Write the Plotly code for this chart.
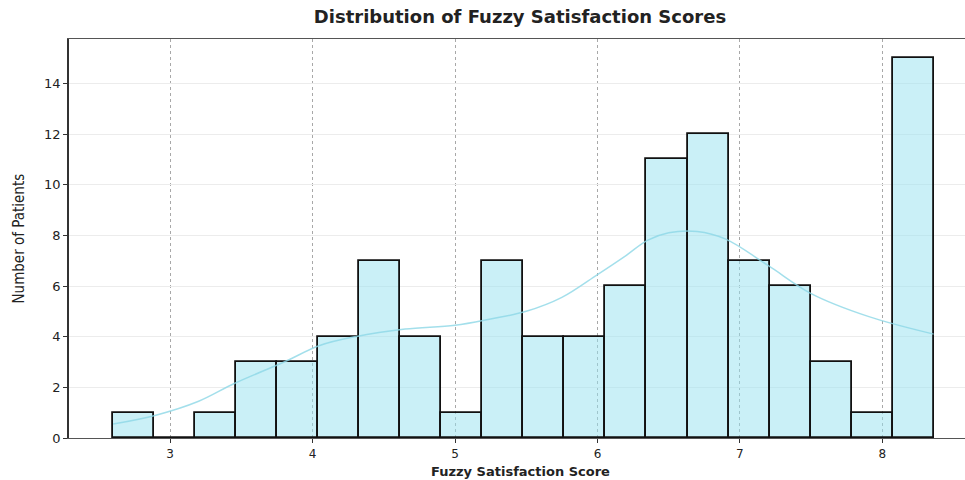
import plotly.graph_objects as go

# ---- data ----
bin_start = 2.60
bin_width = 0.288
counts = [1, 0, 1, 3, 3, 4, 7, 4, 1, 7, 4, 4, 6, 11, 12, 7, 6, 3, 1, 15]

kde_x = [2.60, 2.90, 3.20, 3.45, 3.80, 4.05, 4.30, 4.65, 5.00, 5.25, 5.50,
         5.75, 6.00, 6.20, 6.35, 6.50, 6.70, 6.90, 7.20, 7.50, 7.90, 8.36]
kde_y = [0.55, 0.90, 1.45, 2.15, 3.00, 3.65, 4.00, 4.30, 4.45, 4.70, 5.00,
         5.55, 6.45, 7.20, 7.80, 8.10, 8.15, 7.85, 6.80, 5.70, 4.80, 4.10]

x_ticks = [3, 4, 5, 6, 7, 8]
y_ticks = [0, 2, 4, 6, 8, 10, 12, 14]

title = "Distribution of Fuzzy Satisfaction Scores"
x_title = "Fuzzy Satisfaction Score"
y_title = "Number of Patients"

centers = [bin_start + (i + 0.5) * bin_width for i in range(len(counts))]

fig = go.Figure()
fig.add_trace(go.Bar(
    x=centers, y=counts, width=bin_width,
    marker=dict(color="rgba(150,225,240,0.5)",
                line=dict(color="#111111", width=1.8)),
    showlegend=False, hoverinfo="skip",
))
fig.add_trace(go.Scatter(
    x=kde_x, y=kde_y, mode="lines", line_shape="spline",
    line=dict(color="rgba(140,215,230,0.8)", width=1.5),
    showlegend=False, hoverinfo="skip",
))

font_main = "DejaVu Sans, Verdana, sans-serif"

fig.update_layout(
    width=965, height=480,
    margin=dict(l=69, r=0, t=39, b=42),
    paper_bgcolor="white", plot_bgcolor="white",
    bargap=0,
    title=dict(text="<b>" + title + "</b>", x=520 / 965, xref="container", xanchor="center",
               y=1 - 17 / 480, yref="container", yanchor="middle",
               font=dict(family=font_main, size=18, color="#222222")),
    xaxis=dict(range=[2.29, 8.58], tickvals=x_ticks,
               tickfont=dict(family=font_main, size=12, color="#222222"),
               ticks="outside", ticklen=4, tickcolor="#333333",
               showline=True, linecolor="#555555", linewidth=1.3, mirror=True,
               showgrid=True, gridcolor="#a8a8a8", griddash="dot", gridwidth=1,
               zeroline=False),
    yaxis=dict(range=[0, 15.75], tickvals=y_ticks,
               tickfont=dict(family=font_main, size=13, color="#222222"),
               ticks="outside", ticklen=4, tickcolor="#333333",
               showline=True, linecolor="#333333", linewidth=1.5,
               showgrid=True, gridcolor="#ececec", gridwidth=1,
               zeroline=False),
    annotations=[
        dict(text="<b>" + x_title + "</b>", xref="paper", yref="paper",
             x=(520 - 69) / (965 - 69), y=-(471 - 438) / 399,
             xanchor="center", yanchor="middle", showarrow=False,
             font=dict(family=font_main, size=13, color="#222222")),
        dict(text=y_title, xref="paper", yref="paper",
             x=-(69 - 18) / (965 - 69), y=0.5, textangle=-90,
             xanchor="center", yanchor="middle", showarrow=False,
             font=dict(family="Liberation Sans Narrow, DejaVu Sans Condensed, Arial Narrow, sans-serif",
                       size=15, color="#222222")),
    ],
)

fig.write_html("out.html", config={"displayModeBar": False},
               post_script="document.body.style.margin='0';document.body.style.overflow='hidden';")
